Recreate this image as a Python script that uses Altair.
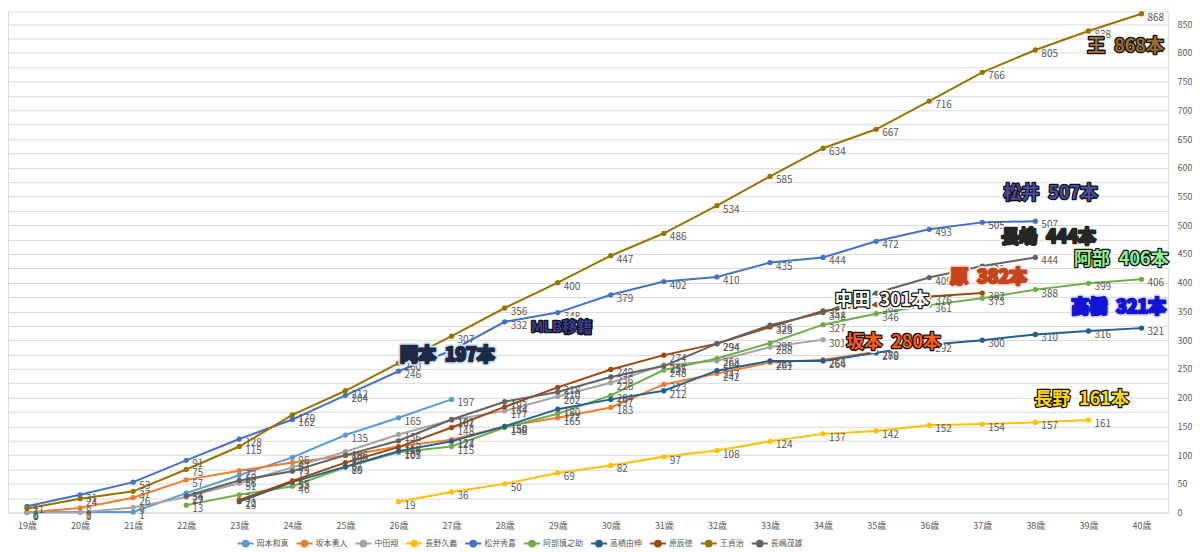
import altair as alt
import pandas as pd

# ---- data (cumulative home runs by age) ----
ages_ticks = list(range(19, 41))
y_ticks = list(range(0, 851, 25))

players = ["岡本和真", "坂本勇人", "中田翔", "長野久義", "松井秀喜",
           "阿部慎之助", "高橋由伸", "原辰徳", "王貞治", "長嶋茂雄"]
colors = ["#5B9BD5", "#ED7D31", "#A5A5A5", "#FFC000", "#4472C4",
          "#70AD47", "#255E91", "#9E480E", "#997300", "#636363"]

start_age = [19, 19, 19, 26, 19, 22, 23, 23, 19, 22]

okamoto = [1, 1, 1, 34, 65, 96, 135, 165, 197]
sakamoto = [0, 8, 26, 57, 73, 87, 99, 115, 127, 150, 165, 183, 223, 242, 261, 266, 280]
nakata = [0, 0, 9, 27, 51, 79, 106, 136, 161, 177, 202, 226, 257, 264, 288, 301]
chono = [19, 36, 50, 69, 82, 97, 108, 124, 137, 142, 152, 154, 157, 161]
matsui = [11, 31, 53, 91, 128, 162, 204, 246, 282, 332, 348, 379, 402, 410, 435,
          444, 472, 493, 505, 507]
abe = [13, 31, 46, 79, 105, 115, 148, 172, 204, 248, 268, 295, 327, 346, 361, 373,
       388, 399, 406]
takahashi = [19, 53, 80, 107, 124, 150, 180, 197, 212, 247, 264, 264, 278, 292, 300,
             310, 316, 321]
hara = [22, 55, 87, 114, 148, 184, 218, 249, 274, 294, 323, 351, 362, 376, 382]
oh = [7, 24, 37, 75, 115, 170, 212, 260, 307, 356, 400, 447, 486, 534, 585, 634, 667,
      716, 766, 805, 838, 868]
nagashima = [29, 56, 72, 100, 125, 162, 193, 210, 236, 255, 294, 326, 348, 382, 409,
             429, 444]

series = [okamoto, sakamoto, nakata, chono, matsui, abe, takahashi, hara, oh, nagashima]

# annotation labels
ann_text = ["王\u2002868本", "松井\u2002507本", "長嶋\u2002444本", "阿部\u2002406本",
            "原\u2002382本", "高橋\u2002321本", "中田\u2002301本", "坂本\u2002280本",
            "長野\u2002161本", "岡本\u2002197本", "MLB移籍"]
ann_age = [39.70, 38.29, 38.25, 39.62, 37.12, 39.57, 35.11, 35.33, 38.87, 26.92, 29.07]
ann_val = [811, 554, 478, 439, 408, 356, 368, 295, 196, 273, 323]
ann_fill = ["#9A6E2E", "#4A4AA0", "#262626", "#93F093", "#C4451C", "#1414D8",
            "#FFFFFF", "#FF5A1A", "#FFD800", "#1F2A44", "#3A3A90"]
ann_inner = ["#111111", "#111111", "#262626", "#111111", "#C4451C", "#1414D8",
             "#111111", "#111111", "#111111", "#1F2A44", "#111111"]
ann_outer = ["#FFFFFF", "#FFFFFF", "#FFFFFF", "#FFFFFF", "#F7E6DE", "#DDE3F5",
             "#FFFFFF", "#FFFFFF", "#FFFFFF", "#CFE3F5", "#FFFFFF"]
ann_size = [18, 18, 18, 18, 18, 18, 18, 18, 18, 18, 15]

# ---- tables ----
rows = []
for name, s0, vals in zip(players, start_age, series):
    for i, v in enumerate(vals):
        rows.append({"player": name, "age": s0 + i, "hr": v})
df = pd.DataFrame(rows)

ann = pd.DataFrame({"text": ann_text, "age": ann_age, "hr": ann_val,
                    "fill": ann_fill, "inner": ann_inner, "outer": ann_outer,
                    "size": ann_size})

FONT = "Noto Sans CJK JP"

x_axis = alt.Axis(values=ages_ticks, labelExpr="datum.value + '歳'",
                  grid=False, ticks=False, domain=False, title=None,
                  labelFontSize=9, labelColor="#595959", labelPadding=9,
                  labelFont=FONT, labelOverlap=False)
y_axis = alt.Axis(orient="right", values=y_ticks,
                  labelExpr="datum.value % 50 == 0 ? datum.label : ''",
                  labelOverlap=False,
                  grid=True, gridColor="#D9D9D9", gridWidth=1,
                  ticks=False, domain=False, title=None,
                  labelFontSize=9, labelColor="#595959", labelPadding=9,
                  labelFont=FONT)
x_scale = alt.Scale(domain=[18.642, 40.5], nice=False, zero=False)
y_scale = alt.Scale(domain=[0, 872], nice=False)


def X():
    return alt.X("age:Q", scale=x_scale, axis=x_axis)


def Y():
    return alt.Y("hr:Q", scale=y_scale, axis=y_axis)


color_enc = alt.Color("player:N",
                      scale=alt.Scale(domain=players, range=colors),
                      legend=alt.Legend(title=None, orient="none", direction="horizontal",
                                        columns=10, legendX=229, legendY=524,
                                        labelFontSize=8, labelColor="#595959",
                                        labelFont=FONT, columnPadding=4, labelOffset=2,
                                        symbolType="M-1,0L1,0M0.36,0A0.36,0.36 0 1,1 -0.36,0A0.36,0.36 0 1,1 0.36,0",
                                        symbolSize=256, symbolStrokeWidth=2))

base = alt.Chart(df)

lines = base.mark_line(strokeWidth=2).encode(x=X(), y=Y(), color=color_enc,
                                             detail="player:N")
points = base.mark_point(filled=True, size=28, opacity=1).encode(
    x=X(), y=Y(), color=color_enc)
labels = base.mark_text(align="left", baseline="middle", dx=6, dy=4, fontSize=10,
                        color="#595959", font=FONT).encode(
    x=X(), y=Y(), text="hr:Q")

abase = alt.Chart(ann).encode(x=X(), y=Y(), text="text:N")
halo = abase.mark_text(font=FONT, fontWeight="bold", fontSize=18, strokeWidth=6,
                       strokeJoin="round").encode(
    stroke=alt.Stroke("outer:N", scale=None), fill=alt.Fill("outer:N", scale=None),
    size=alt.Size("size:Q", scale=None))
outline = abase.mark_text(font=FONT, fontWeight="bold", fontSize=18, strokeWidth=2.6,
                          strokeJoin="round").encode(
    stroke=alt.Stroke("inner:N", scale=None), fill=alt.Fill("inner:N", scale=None),
    size=alt.Size("size:Q", scale=None))
fillt = abase.mark_text(font=FONT, fontWeight="bold", fontSize=18).encode(
    fill=alt.Fill("fill:N", scale=None), size=alt.Size("size:Q", scale=None))

chart = alt.layer(lines, points, labels, halo, outline, fillt).properties(
    width=1162, height=502,
    padding={"left": 0, "top": 1, "right": 0, "bottom": 0}
).configure_view(stroke="#C8C8C8", strokeDash=[2, 2]).configure(background="white")

chart.save("out.html", embed_options={"renderer": "svg", "actions": False})
